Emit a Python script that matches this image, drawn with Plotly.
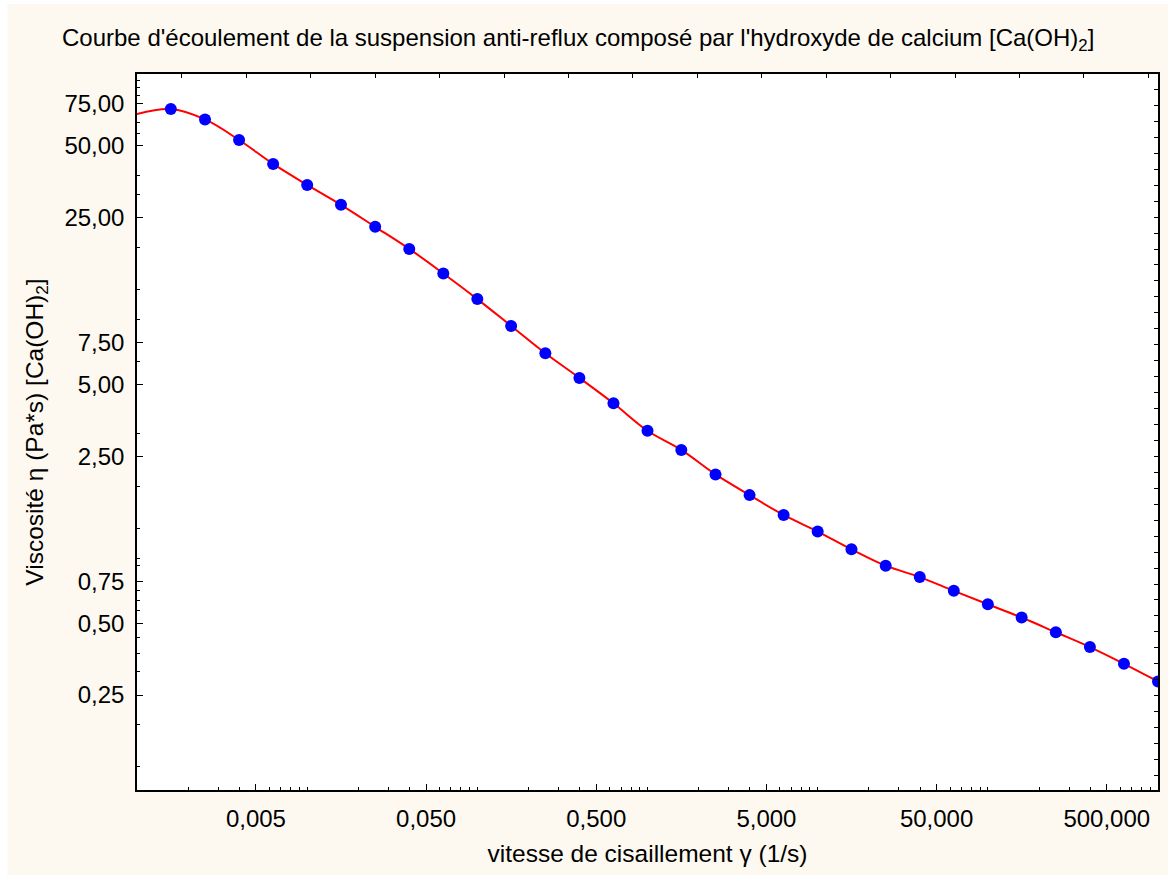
import plotly.graph_objects as go

# Shear rate (1/s) and measured viscosity (Pa*s)
shear_rate = [0.00158, 0.00251, 0.00398, 0.00631, 0.01, 0.0158, 0.0251, 0.0398,
              0.0631, 0.1, 0.158, 0.251, 0.398, 0.631, 1.0, 1.58, 2.51, 3.98,
              6.31, 10.0, 15.8, 25.1, 39.8, 63.1, 100.0, 158.0, 251.0, 398.0,
              631.0, 1000.0]
viscosity = [71.3, 64.5, 52.9, 42.0, 34.3, 28.3, 22.9, 18.5, 14.6, 11.4,
             8.80, 6.76, 5.33, 4.17, 3.20, 2.66, 2.10, 1.72, 1.42, 1.21,
             1.02, 0.871, 0.780, 0.683, 0.600, 0.528, 0.458, 0.397, 0.338, 0.285]

# Smoothed fit: starts at the left edge of the axis, then follows the points
fit_start_x = [0.001]
fit_start_y = [68.0]

# Axis tick values and labels
x_tickvals = [0.005, 0.05, 0.5, 5, 50, 500]
x_ticktext = ["0,005", "0,050", "0,500", "5,000", "50,000", "500,000"]
x_minorvals = [m * d for d in [0.001, 0.01, 0.1, 1, 10, 100]
               for m in [1, 2, 3, 4, 6, 7, 8, 9]] + [1000]

y_tickvals = [75, 50, 25, 7.5, 5, 2.5, 0.75, 0.5, 0.25]
y_ticktext = ["75,00", "50,00", "25,00", "7,50", "5,00", "2,50", "0,75", "0,50", "0,25"]
y_minorvals = [93.75, 87.5, 81.25, 62.5, 56.25, 37.5, 31.25, 18.75, 12.5, 9.375,
               6.25, 3.125, 1.875, 1.25, 0.9375, 0.875, 0.6875, 0.625, 0.5625,
               0.4375, 0.375, 0.3125, 0.1875, 0.125]

FONT = "Liberation Sans, Arial, sans-serif"
CREAM = "#FDF9F0"

fig = go.Figure()

fig.add_trace(go.Scatter(
    x=fit_start_x + shear_rate, y=fit_start_y + viscosity,
    mode="lines", line=dict(color="#FF0000", width=2, shape="spline", smoothing=1.0),
    hoverinfo="skip", showlegend=False,
))
fig.add_trace(go.Scatter(
    x=shear_rate, y=viscosity, mode="markers",
    marker=dict(color="#0000FF", size=12, line=dict(width=0)),
    showlegend=False,
))
# empty trace carrying the secondary (top/right) tick axes
fig.add_trace(go.Scatter(x=[None], y=[None], xaxis="x2", yaxis="y2",
                         showlegend=False, hoverinfo="skip"))

fig.update_layout(
    width=1168, height=875,
    margin=dict(l=137, r=8, t=74, b=85),
    paper_bgcolor="white",
    plot_bgcolor="white",
    font=dict(family=FONT, size=24, color="black"),
    title=dict(
        text="Courbe d'écoulement de la suspension anti-reflux composé par l'hydroxyde de calcium [Ca(OH)<sub>2</sub>]",
        font=dict(family=FONT, size=24, color="black"),
        x=62 / 1168, xanchor="left", xref="container",
        y=1 - 38 / 875, yanchor="middle", yref="container",
    ),
    xaxis=dict(
        type="log", range=[-3, 3],
        tickmode="array", tickvals=x_tickvals, ticktext=x_ticktext,
        ticks="inside", ticklen=6, tickwidth=1, tickcolor="black",
        minor=dict(tickvals=x_minorvals, ticks="inside", ticklen=3, tickcolor="black", showgrid=False),
        showline=True, linecolor="black", linewidth=1.5, mirror=True,
        showgrid=False, zeroline=False,
        tickfont=dict(size=24),
        ticklabelstandoff=6,
        title=dict(text="vitesse de cisaillement γ (1/s)", font=dict(size=24.5), standoff=14),
    ),
    yaxis=dict(
        type="log", range=[-1, 2],
        tickmode="array", tickvals=y_tickvals, ticktext=y_ticktext,
        ticks="inside", ticklen=6, tickwidth=1, tickcolor="black",
        minor=dict(tickvals=y_minorvals, ticks="inside", ticklen=3, tickcolor="black", showgrid=False),
        showline=True, linecolor="black", linewidth=1.5, mirror=True,
        showgrid=False, zeroline=False,
        tickfont=dict(size=24),
        ticklabelstandoff=6,
        title=dict(text="Viscosité η (Pa*s) [Ca(OH)<sub>2</sub>]", font=dict(size=24.5), standoff=14),
    ),
    xaxis2=dict(
        overlaying="x", side="top", anchor="y2", range=[0, 1],
        tick0=0.044, dtick=0.0631, ticks="inside", ticklen=4, tickcolor="black",
        showticklabels=False, showgrid=False, zeroline=False, showline=False,
    ),
    yaxis2=dict(
        overlaying="y", side="right", anchor="x2", range=[0, 1],
        tick0=0.0203, dtick=0.02228, ticks="inside", ticklen=4, tickcolor="black",
        showticklabels=False, showgrid=False, zeroline=False, showline=False,
    ),
    shapes=[
        dict(type="rect", xref="paper", yref="paper", layer="below",
             x0=-0.127, x1=1.01, y0=-0.125, y1=1.0978,
             fillcolor=CREAM, line=dict(width=0)),
        dict(type="rect", xref="paper", yref="paper", layer="below",
             x0=0, x1=1, y0=0, y1=1,
             fillcolor="white", line=dict(width=0)),
    ],
)

fig.write_html("out.html")
